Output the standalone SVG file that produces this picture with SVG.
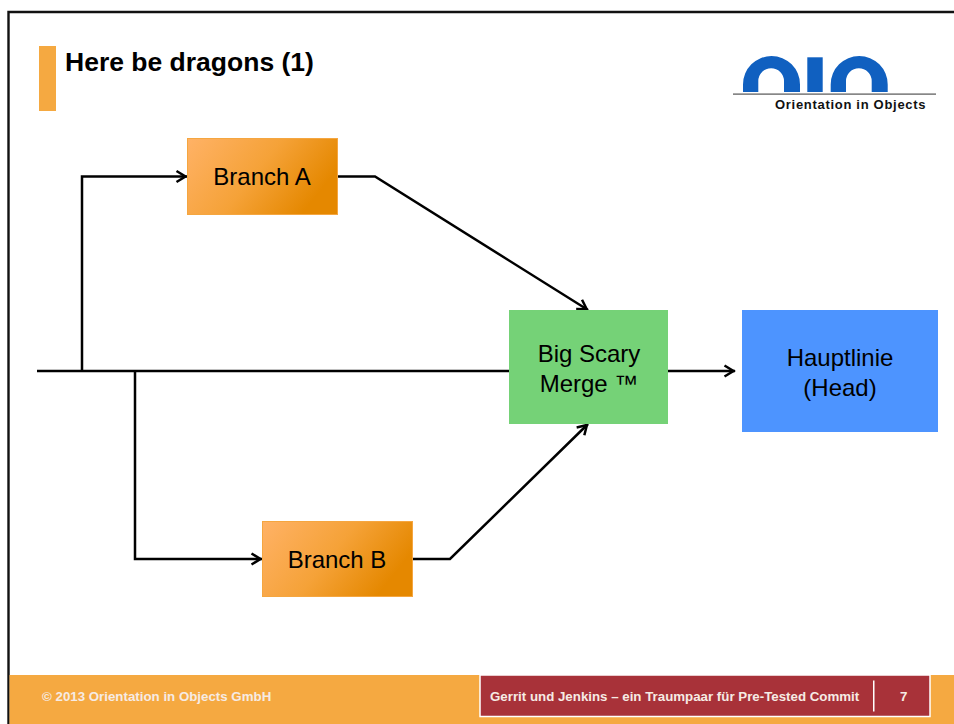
<svg xmlns="http://www.w3.org/2000/svg" width="954" height="724" viewBox="0 0 954 724">
<style>
.n{font-family:"Liberation Sans",Arial,sans-serif;font-size:24px;fill:#000;text-anchor:middle}
.f{font-family:"Liberation Sans",Arial,sans-serif;font-size:13.300px;font-weight:bold;fill:#f6ebe4}
.c{fill:none;stroke:#000;stroke-width:2.500;stroke-linejoin:miter}
.a{marker-end:url(#arr)}
.logo{fill:#1060c0}
.b{stroke:#f5a640;stroke-width:1}
</style>
<defs>
<marker id="arr" markerUnits="userSpaceOnUse" markerWidth="16" markerHeight="16" refX="13.500" refY="7" orient="auto" overflow="visible">
<path d="M3,1.500 L12,7 L3,12.500" fill="none" stroke="#000" stroke-width="2.500"/>
</marker>
<linearGradient id="og" x1="0" y1="0" x2="1" y2="0.400">
<stop offset="0" stop-color="#ffb266"/><stop offset="0.55" stop-color="#f5a238"/><stop offset="1" stop-color="#e58800"/>
</linearGradient>
</defs>
<rect width="954" height="724" fill="#fff"/>
<path d="M8.500,724 V12 H954" fill="none" stroke="#111" stroke-width="2.400"/>
<g id="title">
<rect x="39" y="46" width="17" height="65" fill="#f5a941"/>
<text x="65" y="71" font-family="Liberation Sans,Arial,sans-serif" font-size="26.500px" font-weight="bold" fill="#000">Here be dragons (1)</text>
</g>
<g id="logo">
<path class="logo" d="M743,92 V84.500 A28.500,28.500 0 0 1 800,84.500 V92 H784 V81 A12.850,12.850 0 0 0 758.300,81 V92 Z"/>
<rect class="logo" x="807.300" y="57.300" width="15.400" height="34.700"/>
<path class="logo" d="M830.700,92 V84.500 A28.500,28.500 0 0 1 887.700,84.500 V92 H871.700 V81 A12.850,12.850 0 0 0 846,81 V92 Z"/>
<rect x="733" y="93.500" width="203" height="1.200" fill="#555"/>
<text x="775" y="109.300" font-family="Liberation Sans,Arial,sans-serif" font-size="13px" letter-spacing="0.700" font-weight="bold" fill="#111">Orientation in Objects</text>
</g>
<g id="connectors">
<path class="c" d="M37,371 H509"/>
<path class="c a" d="M82,371 V176.500 H187"/>
<path class="c a" d="M135,371 V559 H262"/>
<path class="c a" d="M338,176.500 H375 L588,310"/>
<path class="c a" d="M413,559 H450 L588,424"/>
<path class="c a" d="M668,371 H735"/>
</g>
<g id="branch-a">
<rect class="b" x="187.500" y="138.500" width="150" height="76" fill="url(#og)"/>
<text class="n" x="262" y="185">Branch A</text>
</g>
<g id="branch-b">
<rect class="b" x="262.500" y="521.500" width="150" height="75" fill="url(#og)"/>
<text class="n" x="337" y="568">Branch B</text>
</g>
<g id="merge">
<rect x="509" y="310" width="159" height="114" fill="#75d277"/>
<text class="n" x="589" y="362">Big Scary</text>
<text class="n" x="589" y="392">Merge ™</text>
</g>
<g id="head">
<rect x="742" y="310" width="196" height="122" fill="#4d94ff"/>
<text class="n" x="840" y="366">Hauptlinie</text>
<text class="n" x="840" y="396">(Head)</text>
</g>
<g id="footer">
<rect x="9.500" y="675" width="944.500" height="49" fill="#f5a941"/>
<text class="f" x="42" y="700.500">© 2013 Orientation in Objects GmbH</text>
<rect x="480" y="675" width="450" height="41.500" fill="#a83239" stroke="#fff" stroke-width="1.500"/>
<text class="f" x="490" y="700.500">Gerrit und Jenkins – ein Traumpaar für Pre-Tested Commit</text>
<rect x="873" y="680.500" width="1.500" height="31" fill="#fff"/>
<text class="f" x="900" y="700.500">7</text>
</g>
</svg>
